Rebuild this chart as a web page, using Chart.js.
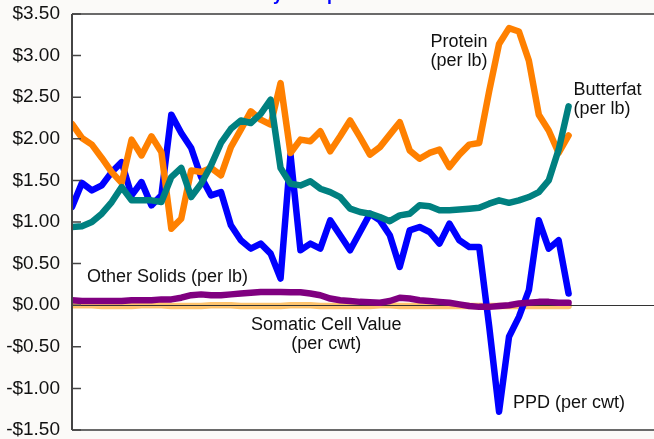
<!DOCTYPE html>
<html>
<head>
<meta charset="utf-8">
<script src="https://cdn.jsdelivr.net/npm/chart.js@4.4.1/dist/chart.umd.min.js"></script>
<style>
  html, body { margin: 0; padding: 0; background: #fbfaf8; }
  #wrap { width: 654px; height: 439px; }
</style>
</head>
<body>
<div id="wrap"><canvas id="chart"></canvas></div>
<script>
// Monthly component values, one entry per month (51 months)
const ppd = [1.18, 1.47, 1.38, 1.44, 1.60, 1.72, 1.32, 1.48, 1.20, 1.32,
    2.29, 2.07, 1.89, 1.54, 1.32, 1.36, 0.96, 0.78, 0.68, 0.74,
    0.62, 0.32, 1.81, 0.66, 0.74, 0.68, 1.02, 0.84, 0.66, 0.88,
    1.10, 1.02, 0.84, 0.46, 0.90, 0.94, 0.88, 0.74, 0.98, 0.78,
    0.70, 0.70, -0.25, -1.28, -0.38, -0.14, 0.18, 1.02, 0.68, 0.78,
    0.14];
const protein = [2.18, 2.01, 1.93, 1.77, 1.60, 1.47, 1.99, 1.80, 2.03, 1.84,
    0.92, 1.04, 1.62, 1.60, 1.65, 1.56, 1.90, 2.11, 2.33, 2.23,
    2.17, 2.67, 1.83, 1.99, 1.97, 2.09, 1.85, 2.03, 2.22, 2.02,
    1.81, 1.90, 2.05, 2.20, 1.86, 1.76, 1.83, 1.87, 1.66, 1.81,
    1.93, 1.95, 2.57, 3.14, 3.33, 3.29, 2.94, 2.29, 2.10, 1.83,
    2.04];
const butterfat = [0.94, 0.95, 1.00, 1.10, 1.24, 1.42, 1.26, 1.26, 1.26, 1.24,
    1.54, 1.65, 1.30, 1.46, 1.68, 1.95, 2.12, 2.22, 2.19, 2.30,
    2.47, 1.65, 1.46, 1.44, 1.49, 1.40, 1.36, 1.30, 1.16, 1.12,
    1.10, 1.06, 1.01, 1.08, 1.10, 1.20, 1.19, 1.14, 1.14, 1.15,
    1.16, 1.17, 1.22, 1.26, 1.23, 1.26, 1.30, 1.36, 1.50, 1.87,
    2.39];
const otherSolids = [0.06, 0.05, 0.05, 0.05, 0.05, 0.05, 0.06, 0.06, 0.06, 0.07,
    0.07, 0.09, 0.12, 0.13, 0.12, 0.12, 0.13, 0.14, 0.15, 0.16,
    0.16, 0.16, 0.155, 0.155, 0.14, 0.12, 0.08, 0.06, 0.05, 0.04,
    0.035, 0.03, 0.05, 0.09, 0.08, 0.06, 0.05, 0.04, 0.03, 0.01,
    -0.01, -0.02, -0.02, -0.01, 0.00, 0.02, 0.03, 0.04, 0.04, 0.03,
    0.03];
const somaticCell = [0.00, 0.00, 0.00, -0.01, -0.01, -0.01, -0.01, 0.00, 0.00, 0.00,
    -0.01, -0.01, -0.01, -0.01, 0.00, 0.00, 0.00, -0.01, -0.01, -0.01,
    -0.01, -0.01, 0.00, 0.00, 0.00, -0.01, -0.01, -0.01, -0.01, -0.01,
    -0.01, 0.00, 0.00, -0.01, -0.01, -0.01, -0.01, -0.01, -0.01, -0.01,
    -0.01, -0.01, -0.01, -0.01, -0.01, -0.01, -0.01, -0.01, -0.01, -0.01,
    -0.01];

const yTickValues = [3.5, 3.0, 2.5, 2.0, 1.5, 1.0, 0.5, 0.0, -0.5, -1.0, -1.5];

const TITLE = 'Monthly Component Values';
const FONT = "'Liberation Sans', Arial, sans-serif";

// series labels written on the plot: text lines, x (month index), first baseline (value)
const seriesNotes = [
    { lines: ['Protein', '(per lb)'], x: 36.1, y: 3.10, align: 'left' },
    { lines: ['Butterfat', '(per lb)'], x: 50.5, y: 2.53, align: 'left' },
    { lines: ['Other Solids (per lb)'], x: 1.5, y: 0.28, align: 'left' },
    { lines: ['Somatic Cell Value', '(per cwt)'], x: 25.6, y: -0.30, align: 'center' },
    { lines: ['PPD (per cwt)'], x: 44.4, y: -1.24, align: 'left' },
];

const toPoints = (arr) => arr.map((v, i) => ({ x: i, y: v }));

function money(v) {
    const s = '$' + Math.abs(v).toFixed(2);
    return v < 0 ? '-' + s : s;
}

const framePlugin = {
    id: 'frame',
    beforeDraw(chart) {
        const { ctx, chartArea: a } = chart;
        ctx.save();
        ctx.fillStyle = '#fbfaf8';
        ctx.fillRect(0, 0, chart.width, chart.height);
        ctx.fillStyle = '#ffffff';
        ctx.fillRect(a.left, a.top, a.right - a.left, a.bottom - a.top);
        // title, mostly cut off by the top edge
        ctx.fillStyle = '#0000ff';
        ctx.font = "bold 17.7px " + FONT;
        ctx.textAlign = 'center';
        ctx.textBaseline = 'alphabetic';
        ctx.fillText(TITLE, 331, -0.5);
        ctx.restore();
    },
    afterDatasetDraw(chart, args) {
        // zero line sits on top of the somatic cell band, below the other series
        if (args.index !== 4) return;
        const { ctx, chartArea: a, scales: { y } } = chart;
        const y0 = Math.round(y.getPixelForValue(0)) + 0.5;
        ctx.save();
        ctx.strokeStyle = '#333333';
        ctx.lineWidth = 1;
        ctx.beginPath();
        ctx.moveTo(a.left, y0);
        ctx.lineTo(a.right, y0);
        ctx.stroke();
        ctx.restore();
    },
    afterDraw(chart) {
        const { ctx, chartArea: a, scales: { x, y } } = chart;
        ctx.save();
        ctx.strokeStyle = '#6a6a6a';
        ctx.lineWidth = 2;
        ctx.beginPath();
        ctx.moveTo(a.left, a.top);
        ctx.lineTo(a.right, a.top);
        ctx.moveTo(a.left, a.bottom);
        ctx.lineTo(a.right, a.bottom);
        ctx.stroke();
        ctx.strokeStyle = '#444444';
        ctx.beginPath();
        ctx.moveTo(a.left, a.top);
        ctx.lineTo(a.left, a.bottom);
        ctx.stroke();
        ctx.lineWidth = 1.5;
        ctx.beginPath();
        yTickValues.forEach((v) => {
            const py = y.getPixelForValue(v);
            ctx.moveTo(a.left, py);
            ctx.lineTo(a.left + 9, py);
        });
        ctx.stroke();

        ctx.fillStyle = '#111111';
        ctx.font = '18px ' + FONT;
        ctx.textBaseline = 'alphabetic';
        seriesNotes.forEach((n) => {
            ctx.textAlign = n.align;
            const px = x.getPixelForValue(n.x);
            const py = y.getPixelForValue(n.y);
            n.lines.forEach((t, k) => ctx.fillText(t, px, py + k * 19));
        });
        ctx.restore();
    },
};

const line = (label, data, color) => ({
    label,
    data: toPoints(data),
    borderColor: color,
    backgroundColor: color,
    borderWidth: 6.5,
    pointRadius: 0,
    tension: 0,
    fill: false,
    borderCapStyle: 'round',
    borderJoinStyle: 'round',
});

new Chart(document.getElementById('chart'), {
    type: 'line',
    data: {
        // first dataset is drawn on top
        datasets: [
            line('Other Solids (per lb)', otherSolids, '#800080'),
            line('Butterfat (per lb)', butterfat, '#008080'),
            line('Protein (per lb)', protein, '#ff8000'),
            line('PPD (per cwt)', ppd, '#0000ff'),
            line('Somatic Cell Value (per cwt)', somaticCell, '#ffc46e'),
        ],
    },
    options: {
        responsive: true,
        maintainAspectRatio: false,
        animation: false,
        layout: { padding: { top: 14, bottom: 9, left: 0, right: 0 } },
        plugins: { legend: { display: false }, tooltip: { enabled: false } },
        scales: {
            x: {
                type: 'linear',
                min: 0,
                max: 58.6,
                display: false,
            },
            y: {
                min: -1.5,
                max: 3.5,
                afterFit(scale) {
                    scale.width = 72;
                    scale.paddingTop = 0;
                    scale.paddingBottom = 0;
                },
                afterBuildTicks(scale) { scale.ticks = yTickValues.map((v) => ({ value: v })); },
                grid: { display: false, drawTicks: false },
                border: { display: false },
                ticks: {
                    padding: 12,
                    color: '#111111',
                    font: { family: FONT, size: 19 },
                    callback: (v) => money(v),
                },
            },
        },
    },
    plugins: [framePlugin],
});
</script>
</body>
</html>
